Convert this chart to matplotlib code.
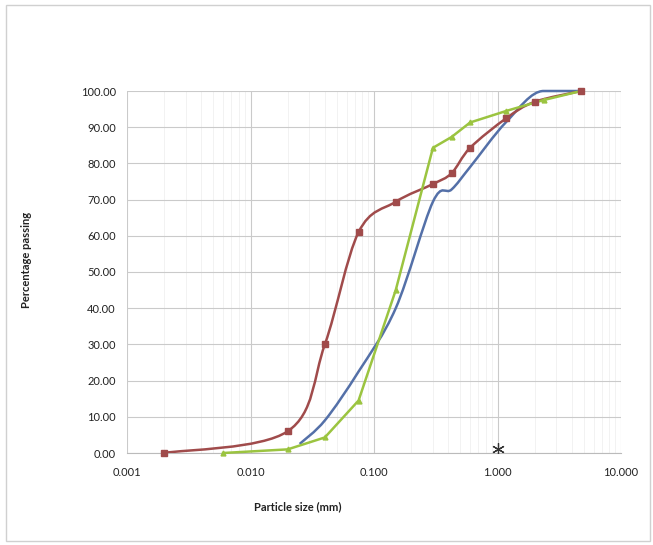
import numpy as np
import matplotlib
matplotlib.use("Agg")
import matplotlib.pyplot as plt
from matplotlib.path import Path
from matplotlib.patches import PathPatch, Rectangle
from matplotlib.ticker import FixedLocator, LogLocator, NullFormatter

plt.rcParams['font.family'] = ['Lato', 'DejaVu Sans']

# ---- data ----
red_x = [0.002, 0.02, 0.04, 0.075, 0.15, 0.3, 0.425, 0.6, 1.18, 2.0, 4.75]
red_y = [0.0, 6.0, 30.0, 61.0, 69.4, 74.3, 77.3, 84.3, 92.5, 97.0, 100.0]

blue_x = [0.025, 0.04, 0.075, 0.15, 0.3, 0.425, 0.6, 1.18, 2.36, 4.75]
blue_y = [2.5, 9.0, 22.5, 40.0, 69.4, 72.8, 79.0, 91.5, 100.0, 100.0]

green_x = [0.006, 0.02, 0.04, 0.075, 0.15, 0.3, 0.425, 0.6, 1.18, 2.36, 4.75]
green_y = [0.0, 1.0, 4.3, 14.5, 45.0, 84.3, 87.3, 91.3, 94.5, 97.5, 100.0]

star_x = [1.0]
star_y = [1.2]

xticks = [0.001, 0.01, 0.1, 1.0, 10.0]
xtick_labels = ["0.001", "0.010", "0.100", "1.000", "10.000"]
yticks = [0, 10, 20, 30, 40, 50, 60, 70, 80, 90, 100]
ytick_labels = ["%.2f" % v for v in yticks]

RED = '#A04B4B'
BLUE = '#5470A8'
GREEN = '#9BC440'


def smooth_path(xs, ys, tension=1/6.0):
    """Excel-like smoothed line (Catmull-Rom bezier) in log-x space."""
    lx = np.log10(np.asarray(xs, float))
    y = np.asarray(ys, float)
    n = len(lx)
    # tangents, flattened where a neighbour has the same value
    tang = []
    for i in range(n):
        a = max(i - 1, 0)
        b = min(i + 1, n - 1)
        t = [(lx[b] - lx[a]) * tension, (y[b] - y[a]) * tension]
        if (i > 0 and y[i - 1] == y[i]) or (i < n - 1 and y[i + 1] == y[i]):
            t[1] = 0.0
        tang.append(t)
    verts = [(xs[0], ys[0])]
    codes = [Path.MOVETO]
    for i in range(n - 1):
        c1 = (lx[i] + tang[i][0], y[i] + tang[i][1])
        c2 = (lx[i + 1] - tang[i + 1][0], y[i + 1] - tang[i + 1][1])
        for c in (c1, c2, (lx[i + 1], y[i + 1])):
            verts.append((10 ** c[0], c[1]))
        codes += [Path.CURVE4] * 3
    return Path(verts, codes)


fig = plt.figure(figsize=(6.53, 5.45), dpi=100)
ax = fig.add_axes([127 / 653, 92 / 545, 494 / 653, 362 / 545])
ax.set_xscale('log')
ax.set_xlim(0.001, 10)
ax.set_ylim(0, 100)

# grid
ax.xaxis.set_major_locator(FixedLocator(xticks))
ax.xaxis.set_minor_locator(LogLocator(base=10, subs=np.arange(2, 10)))
ax.xaxis.set_minor_formatter(NullFormatter())
ax.set_xticks(xticks)
ax.set_xticklabels(xtick_labels)
ax.set_yticks(yticks)
ax.set_yticklabels(ytick_labels)
ax.grid(True, which='major', axis='both', color='#CACACA', lw=0.8)
ax.grid(True, which='minor', axis='x', color='#F0F0F0', lw=0.6)
ax.set_axisbelow(True)
for s in ['top', 'right', 'left']:
    ax.spines[s].set_visible(False)
ax.spines['bottom'].set_color('#BBBBBB')
ax.tick_params(axis='both', which='both', length=0, labelsize=8, colors='#222222', pad=8)
ax.tick_params(axis='x', pad=10)

# series
ax.add_patch(PathPatch(smooth_path(blue_x, blue_y), fill=False, edgecolor=BLUE, lw=1.8,
                       zorder=3, clip_on=False))
ax.add_patch(PathPatch(smooth_path(red_x, red_y), fill=False, edgecolor=RED, lw=1.8, zorder=4))
ax.plot(red_x, red_y, ls='none', marker='s', ms=4, color=RED, zorder=5, clip_on=False)
ax.plot(green_x, green_y, color=GREEN, lw=1.8, marker='^', ms=3.5, zorder=4, clip_on=False)
ax.plot(star_x, star_y, ls='none', marker=(6, 2, 0), ms=9, color='#333333', mew=0.9, zorder=5)

fig.text(27 / 653, 1 - 260 / 545, "Percentage passing", rotation=90, ha='center', va='center',
         fontsize=8, fontweight='bold', color='#222222')
fig.text(298 / 653, 1 - 507 / 545, "Particle size (mm)", ha='center', va='center',
         fontsize=8, fontweight='bold', color='#222222')

fig.patches.append(Rectangle((6 / 653, 4 / 545), 644 / 653, 536 / 545, transform=fig.transFigure,
                             fill=False, edgecolor='#D0D0D0', lw=1.0))

fig.savefig('out.png', dpi=100, facecolor='white')
